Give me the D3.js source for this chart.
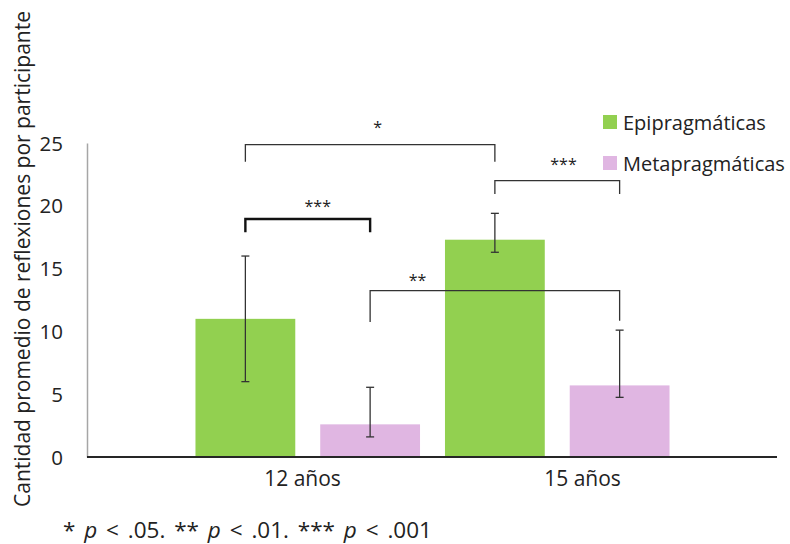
<!DOCTYPE html>
<html>
<head>
<meta charset="utf-8">
<script src="https://cdn.jsdelivr.net/npm/d3@7"></script>
<style>
  html, body { margin: 0; padding: 0; background: #fff; }
  svg { display: block; }
  text { font-family: "Open Sans", "Noto Sans", sans-serif; fill: #222; }
</style>
</head>
<body>
<div id="chart"></div>
<script>
// ---- data ----
const categories = ["12 años", "15 años"];
const seriesNames = ["Epipragmáticas", "Metapragmáticas"];
const epiValues = [11.0, 17.3];
const metaValues = [2.6, 5.7];
const epiErrLow = [6.0, 16.3];
const epiErrHigh = [16.0, 19.4];
const metaErrLow = [1.6, 4.75];
const metaErrHigh = [5.55, 10.1];
const yTicks = [0, 5, 10, 15, 20, 25];
const yTitle = "Cantidad promedio de reflexiones por participante";
// significance brackets: [category index, series index] ends, heights in data units
const bracketFrom = [[0, 0], [0, 0], [1, 0], [0, 1]];
const bracketTo = [[1, 0], [0, 1], [1, 1], [1, 1]];
const bracketTop = [24.87, 18.95, 22.0, 13.24];
const bracketLegL = [23.5, 17.9, 20.94, 10.75];
const bracketLegR = [23.5, 17.9, 20.94, 10.85];
const bracketLabels = ["*", "***", "***", "**"];
const bracketLabelAt = [0.53, 0.58, 0.55, 0.19];
const bracketLabelY = [26.55, 20.25, 23.6, 14.35];
const bracketHeavy = [false, true, false, false];

// ---- layout ----
const W = 790, H = 544;
const colors = ["#92D050", "#E0B6E2"];
const svg = d3.select("#chart").append("svg").attr("width", W).attr("height", H);

const y = d3.scaleLinear().domain([0, 25]).range([457, 143]);
const x0 = d3.scaleBand().domain(categories).range([183, 682]).padding(0);
const x1 = d3.scaleBand().domain(seriesNames).range([0, x0.bandwidth()])
  .paddingInner(0.2).paddingOuter(0.1);
const xLabel = d3.scaleBand().domain(categories).range([162.5, 722.5]);

const values = [epiValues, metaValues];
const errLow = [epiErrLow, metaErrLow];
const errHigh = [epiErrHigh, metaErrHigh];

const rows = [];
categories.forEach((c, ci) => seriesNames.forEach((s, si) => rows.push({
  c, s, si, v: values[si][ci], lo: errLow[si][ci], hi: errHigh[si][ci]
})));

const cx = (ci, si) => x0(categories[ci]) + x1(seriesNames[si]) + x1.bandwidth() / 2;

// bars
svg.append("g").selectAll("rect").data(rows).join("rect")
  .attr("x", d => x0(d.c) + x1(d.s))
  .attr("width", x1.bandwidth())
  .attr("y", d => y(d.v))
  .attr("height", d => y(0) - y(d.v))
  .attr("fill", d => colors[d.si]);

// error bars
const eb = svg.append("g").attr("stroke", "#333").attr("stroke-width", 1.3);
rows.forEach(d => {
  const xc = x0(d.c) + x1(d.s) + x1.bandwidth() / 2;
  eb.append("line").attr("x1", xc).attr("x2", xc).attr("y1", y(d.lo)).attr("y2", y(d.hi));
  eb.append("line").attr("x1", xc - 4).attr("x2", xc + 4).attr("y1", y(d.lo)).attr("y2", y(d.lo));
  eb.append("line").attr("x1", xc - 4).attr("x2", xc + 4).attr("y1", y(d.hi)).attr("y2", y(d.hi));
});

// y axis
const yAxis = svg.append("g").attr("transform", "translate(87,0)")
  .call(d3.axisLeft(y).tickValues(yTicks).tickSize(0).tickPadding(24));
yAxis.select(".domain").attr("stroke", "#a6a6a6").attr("stroke-width", 1.5);
yAxis.selectAll("text").attr("font-size", 20.5).attr("fill", "#222")
  .attr("font-family", "'Open Sans', sans-serif").attr("dy", "0.35em");

// x baseline
svg.append("line").attr("x1", 87).attr("x2", 777).attr("y1", y(0)).attr("y2", y(0))
  .attr("stroke", "#262626").attr("stroke-width", 2);

// x labels
const xAxis = svg.append("g").attr("transform", `translate(0,${y(0)})`)
  .call(d3.axisBottom(xLabel).tickSize(0).tickPadding(14));
xAxis.select(".domain").remove();
xAxis.selectAll("text").attr("font-size", 21).attr("fill", "#222")
  .attr("font-family", "'Open Sans', sans-serif");

// y title
svg.append("text")
  .attr("transform", `translate(22,${(15 + 503) / 2}) rotate(-90)`)
  .attr("text-anchor", "middle").attr("dominant-baseline", "central")
  .attr("font-size", 21).text(yTitle);

// brackets
const br = svg.append("g").attr("fill", "none");
bracketLabels.forEach((lab, i) => {
  const xa = cx(bracketFrom[i][0], bracketFrom[i][1]);
  const xb = cx(bracketTo[i][0], bracketTo[i][1]);
  br.append("path")
    .attr("d", `M${xa},${y(bracketLegL[i])}V${y(bracketTop[i])}H${xb}V${y(bracketLegR[i])}`)
    .attr("stroke", bracketHeavy[i] ? "#111" : "#333")
    .attr("stroke-width", bracketHeavy[i] ? 2.4 : 1.3);
  svg.append("text")
    .attr("x", xa + (xb - xa) * bracketLabelAt[i])
    .attr("y", y(bracketLabelY[i]) + 9)
    .attr("text-anchor", "middle").attr("font-size", 16).text(lab);
});

// legend
const lg = svg.append("g");
seriesNames.forEach((s, i) => {
  lg.append("rect").attr("x", 603).attr("y", 115 + i * 41).attr("width", 14).attr("height", 14)
    .attr("fill", colors[i]);
  lg.append("text").attr("x", 623).attr("y", 130 + i * 41).attr("font-size", 20).text(s);
});

// footnote
const fn = svg.append("text").attr("x", 63).attr("y", 538).attr("font-size", 22.5)
  .attr("word-spacing", 3).attr("xml:space", "preserve");
const parts = [["* ", false], ["p", true], [" < .05. ** ", false], ["p", true],
  [" < .01. *** ", false], ["p", true], [" < .001", false]];
parts.forEach(([t, it]) => fn.append("tspan").attr("font-style", it ? "italic" : "normal").text(t));
</script>
</body>
</html>
